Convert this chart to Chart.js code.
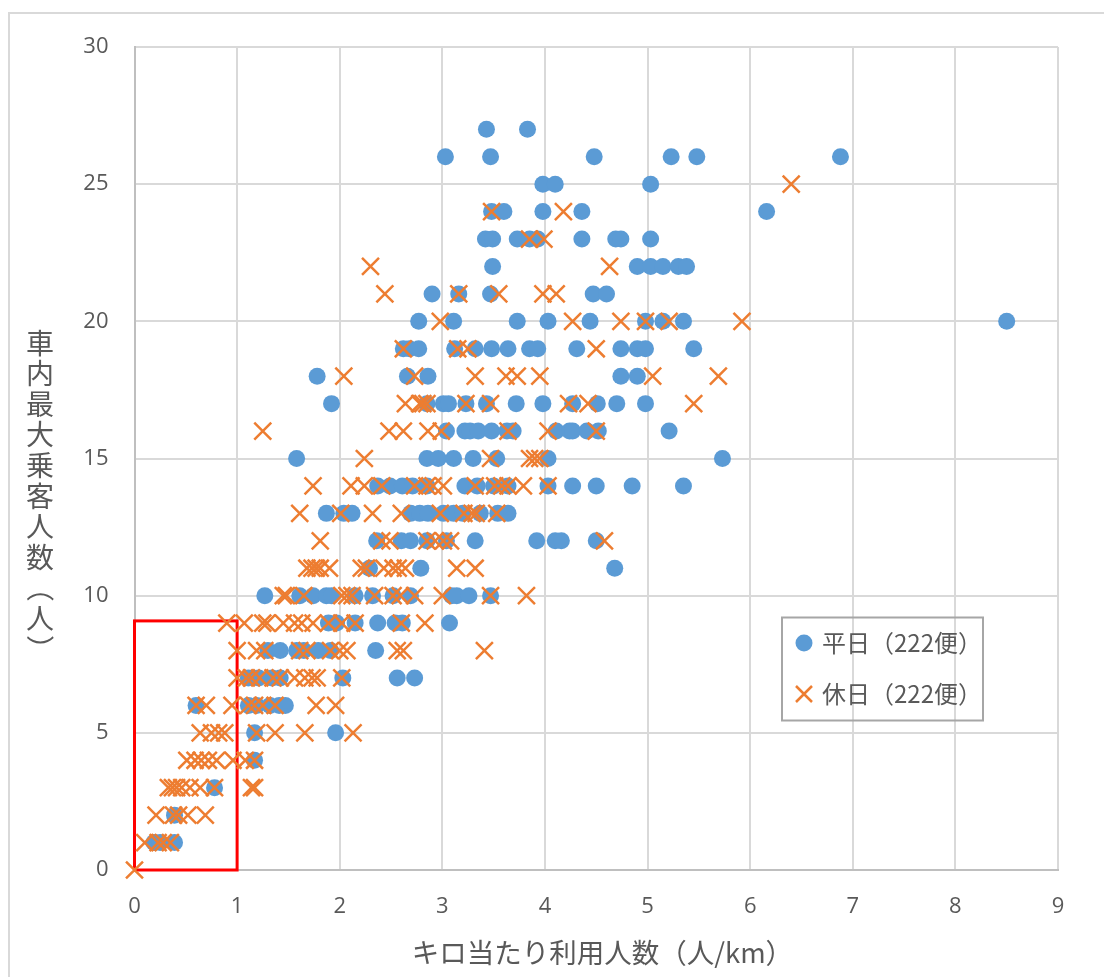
<!DOCTYPE html>
<html lang="ja">
<head>
<meta charset="utf-8">
<title>キロ当たり利用人数と車内最大乗客人数</title>
<script src="https://cdn.jsdelivr.net/npm/chart.js@4"></script>
<style>
  html, body { margin: 0; padding: 0; background: #fff; }
  canvas { display: block; }
</style>
</head>
<body>
<canvas id="grafico" width="1104" height="977"></canvas>
<script>
// Nomes e títulos
const seriesNames = ['平日（222便）', '休日（222便）'];
const xTitle = '\u00A0\u00A0キロ当たり利用人数（人/km）';
const yTitle = '車内最大乗客人数（人）';
const fontFamily = '"Open Sans", "Noto Sans CJK JP", sans-serif';
const cjkFamily = '"Noto Sans CJK JP", sans-serif';

// Retângulo vermelho (valores do gráfico)
const boxX = [0, 1];
const boxY = [0, 9.08];

// Valores: o índice é o número de passageiros (eixo y)
const weekdayKm = [
  [],
  [0.19, 0.25, 0.39],
  [0.39],
  [0.78],
  [1.17],
  [1.17, 1.96],
  [0.6, 1.11, 1.19, 1.32, 1.41, 1.47],
  [1.11, 1.21, 1.34, 1.42, 2.03, 2.56, 2.73],
  [1.3, 1.42, 1.58, 1.65, 1.79, 1.91, 2.35],
  [1.89, 1.97, 2.15, 2.37, 2.54, 2.61, 3.07],
  [1.27, 1.61, 1.74, 1.87, 1.92, 2.15, 2.32, 2.52, 2.69, 3.09, 3.14, 3.26, 3.47],
  [2.29, 2.79, 4.68],
  [2.36, 2.6, 2.69, 2.85, 3.04, 3.32, 3.92, 4.1, 4.16, 4.5],
  [1.87, 2.04, 2.12, 2.69, 2.78, 2.86, 3.01, 3.11, 3.2, 3.37, 3.54, 3.64],
  [2.37, 2.49, 2.61, 2.71, 2.85, 3.22, 3.34, 3.5, 3.64, 4.03, 4.27, 4.5, 4.85, 5.35],
  [1.58, 2.85, 2.96, 3.11, 3.3, 3.53, 4.03, 5.73],
  [3.04, 3.22, 3.27, 3.35, 3.48, 3.63, 3.69, 4.11, 4.24, 4.27, 4.41, 4.52, 5.21],
  [1.92, 2.85, 3.01, 3.06, 3.23, 3.43, 3.72, 3.98, 4.27, 4.51, 4.7, 4.98],
  [1.78, 2.66, 2.86, 4.74, 4.9],
  [2.62, 2.68, 2.77, 3.12, 3.32, 3.48, 3.64, 3.85, 3.93, 4.31, 4.74, 4.9, 4.98, 5.45],
  [2.77, 3.11, 3.73, 4.03, 4.44, 4.98, 5.15, 5.35, 8.5],
  [2.9, 3.16, 3.47, 4.47, 4.6],
  [3.49, 4.9, 5.03, 5.15, 5.3, 5.38],
  [3.42, 3.49, 3.73, 3.85, 3.93, 4.36, 4.69, 4.74, 5.03],
  [3.48, 3.6, 3.98, 4.36, 6.16],
  [3.98, 4.1, 5.03],
  [3.03, 3.47, 4.48, 5.23, 5.48, 6.88],
  [3.43, 3.83]
];
const holidayKm = [
  [0],
  [0.1, 0.23, 0.28, 0.35],
  [0.21, 0.38, 0.43, 0.52, 0.69],
  [0.33, 0.37, 0.41, 0.46, 0.54, 0.64, 0.78, 1.14, 1.17],
  [0.51, 0.59, 0.65, 0.72, 0.8, 0.96, 1.08, 1.17],
  [0.64, 0.75, 0.82, 0.88, 1.19, 1.37, 1.66, 2.13],
  [0.6, 0.7, 0.95, 1.11, 1.17, 1.25, 1.37, 1.77, 1.96],
  [1.0, 1.09, 1.14, 1.22, 1.35, 1.42, 1.56, 1.66, 1.73, 1.78, 2.02],
  [1.0, 1.19, 1.27, 1.61, 1.68, 1.91, 2.0, 2.07, 2.56, 2.62, 3.41],
  [0.9, 1.07, 1.25, 1.29, 1.45, 1.56, 1.63, 1.74, 1.89, 2.02, 2.15, 2.6, 2.83],
  [1.45, 1.48, 1.65, 2.02, 2.07, 2.12, 2.34, 2.52, 2.59, 2.73, 3.0, 3.47, 3.82],
  [1.68, 1.73, 1.77, 1.81, 1.9, 2.21, 2.26, 2.43, 2.52, 2.57, 2.64, 3.14, 3.32],
  [1.81, 2.41, 2.49, 2.85, 2.93, 3.01, 3.08, 4.58],
  [1.61, 2.01, 2.32, 2.6, 2.98, 3.21, 3.29, 3.33, 3.53],
  [1.74, 2.11, 2.24, 2.41, 2.73, 2.85, 2.91, 3.01, 3.32, 3.51, 3.58, 3.64, 3.79, 4.03],
  [2.24, 3.47, 3.85, 3.9, 3.95],
  [1.25, 2.48, 2.62, 2.86, 2.99, 3.64, 4.03, 4.5],
  [2.64, 2.78, 2.81, 2.85, 3.23, 3.47, 4.23, 4.42, 5.45],
  [2.04, 2.73, 3.32, 3.62, 3.73, 3.95, 5.05, 5.69],
  [2.62, 3.15, 3.25, 4.5],
  [2.98, 4.27, 4.74, 4.98, 5.21, 5.92],
  [2.44, 3.16, 3.55, 3.98, 4.11],
  [2.3, 4.63],
  [3.85, 3.99],
  [3.48, 4.18],
  [6.4],
  [],
  []
];

function toPoints(rows) {
  return rows.flatMap((list, riders) => list.map(km => ({ x: km, y: riders })));
}

// Marcador X da legenda (maior que o círculo, como no original)
function legendCross(color) {
  const c = document.createElement('canvas');
  c.width = 18;
  c.height = 18;
  const g = c.getContext('2d');
  g.strokeStyle = color;
  g.lineWidth = 2.5;
  g.beginPath();
  g.moveTo(1, 1); g.lineTo(17, 17);
  g.moveTo(17, 1); g.lineTo(1, 17);
  g.stroke();
  return c;
}

const frameAndBox = {
  id: 'frameAndBox',
  afterUpdate(chart) {
    // leva a legenda para dentro da área do gráfico
    const lg = chart.legend;
    lg.left = 771; lg.right = 1000; lg.top = 604; lg.bottom = 800;
    lg.width = 229; lg.height = 196;
  },
  beforeDatasetsDraw(chart) {
    const { ctx, scales: { x, y } } = chart;
    ctx.save();
    ctx.strokeStyle = '#FF0000';
    ctx.lineWidth = 3;
    ctx.strokeRect(x.getPixelForValue(boxX[0]), y.getPixelForValue(boxY[1]),
      x.getPixelForValue(boxX[1]) - x.getPixelForValue(boxX[0]),
      y.getPixelForValue(boxY[0]) - y.getPixelForValue(boxY[1]));
    ctx.restore();
  },
  afterDraw(chart) {
    const { ctx } = chart;
    ctx.save();
    // moldura externa
    ctx.strokeStyle = '#D9D9D9';
    ctx.lineWidth = 2;
    ctx.beginPath();
    ctx.moveTo(9, 977); ctx.lineTo(9, 13); ctx.lineTo(1104, 13);
    ctx.stroke();
    // caixa da legenda
    ctx.strokeStyle = '#A6A6A6';
    ctx.strokeRect(782, 617.5, 201, 103);
    // título vertical do eixo y, caractere por caractere
    ctx.fillStyle = '#595959';
    ctx.font = '28px ' + cjkFamily;
    ctx.textAlign = 'center';
    ctx.textBaseline = 'middle';
    Array.from(yTitle).forEach((ch, i) => {
      ctx.save();
      ctx.translate(40, 343 + i * 30.6);
      if (ch === '（' || ch === '）') ctx.rotate(Math.PI / 2);
      ctx.fillText(ch, 0, 0);
      ctx.restore();
    });
    ctx.restore();
  }
};

new Chart(document.getElementById('grafico'), {
  type: 'scatter',
  data: {
    datasets: [
      {
        label: seriesNames[0],
        data: toPoints(weekdayKm),
        order: 2,
        clip: false,
        pointStyle: 'circle',
        pointRadius: 8.5,
        pointHoverRadius: 8.5,
        backgroundColor: '#5B9BD5',
        borderColor: '#5B9BD5',
        pointBorderWidth: 0
      },
      {
        label: seriesNames[1],
        data: toPoints(holidayKm),
        order: 1,
        clip: false,
        pointStyle: 'crossRot',
        pointRadius: 12,
        pointHoverRadius: 12,
        backgroundColor: '#ED7D31',
        borderColor: '#ED7D31',
        pointBorderWidth: 2.5
      }
    ]
  },
  options: {
    responsive: false,
    animation: false,
    layout: { padding: { left: 0, top: 47, right: 46, bottom: 0 } },
    scales: {
      x: {
        type: 'linear',
        min: 0,
        max: 9,
        ticks: { stepSize: 1, color: '#595959', padding: 24, maxRotation: 0, font: { family: fontFamily, size: 22 } },
        grid: { color: '#D9D9D9', lineWidth: 2, drawTicks: false },
        border: { color: '#BFBFBF', width: 2 },
        title: {
          display: true,
          text: xTitle,
          color: '#595959',
          font: { family: cjkFamily, size: 27.5 },
          padding: { top: 0, bottom: 8 }
        },
        afterFit(scale) { scale.height = 107; }
      },
      y: {
        type: 'linear',
        min: 0,
        max: 30,
        ticks: { stepSize: 5, color: '#595959', padding: 26, font: { family: fontFamily, size: 22 } },
        grid: { color: '#D9D9D9', lineWidth: 2, drawTicks: false },
        border: { color: '#BFBFBF', width: 2 },
        afterFit(scale) { scale.width = 134.5; }
      }
    },
    plugins: {
      tooltip: { enabled: false },
      legend: {
        position: 'chartArea',
        align: 'start',
        labels: {
          usePointStyle: true,
          boxHeight: 12,
          boxWidth: 12,
          padding: 27,
          color: '#595959',
          font: { family: cjkFamily, size: 24 },
          sort: (a, b) => a.datasetIndex - b.datasetIndex,
          generateLabels(chart) {
            const items = Chart.defaults.plugins.legend.labels.generateLabels(chart);
            items.forEach(item => {
              if (item.datasetIndex === 1) item.pointStyle = legendCross('#ED7D31');
            });
            return items;
          }
        }
      }
    }
  },
  plugins: [frameAndBox]
});
</script>
</body>
</html>
